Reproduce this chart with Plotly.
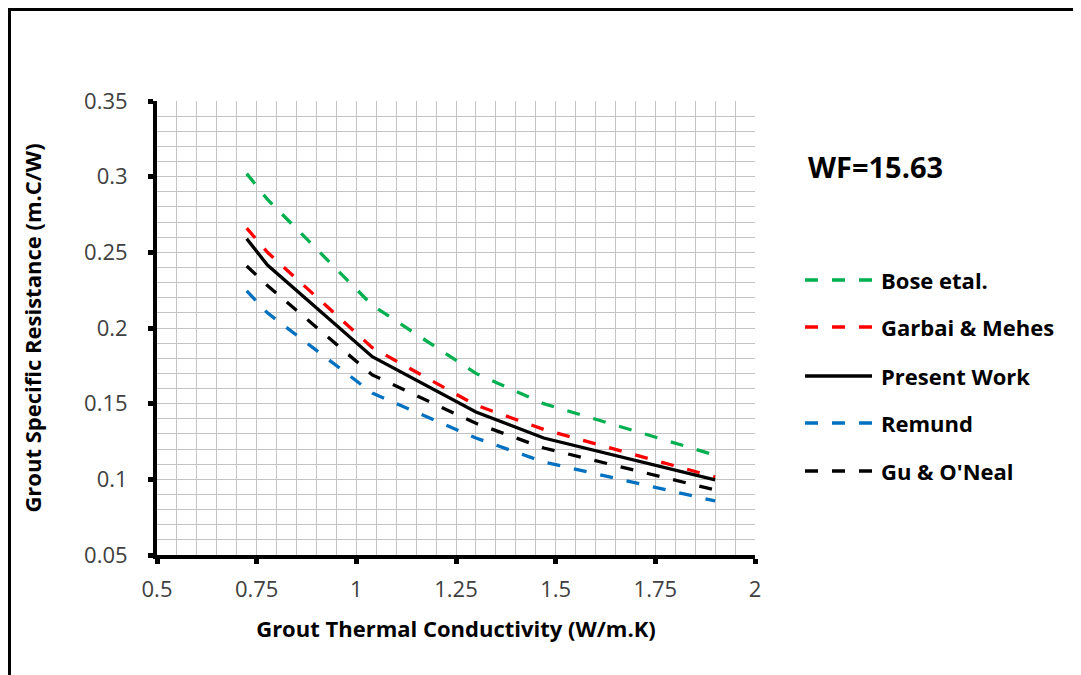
import plotly.graph_objects as go

# ---- data ----
conductivity = [0.725, 0.777, 1.04, 1.30, 1.47, 1.90]
bose = [0.302, 0.285, 0.215, 0.170, 0.150, 0.116]
garbai = [0.266, 0.250, 0.187, 0.149, 0.133, 0.1015]
present = [0.259, 0.2416, 0.181, 0.1445, 0.1273, 0.0996]
remund = [0.2245, 0.210, 0.157, 0.1273, 0.1115, 0.0857]
gu = [0.241, 0.228, 0.169, 0.137, 0.1207, 0.093]

series_names = ["Bose etal.", "Garbai & Mehes", "Present Work", "Remund", "Gu & O'Neal"]
series_values = [bose, garbai, present, remund, gu]
series_colors = ["#00B050", "#FF0000", "#000000", "#0070C0", "#000000"]
series_dash = ["13px,14px", "13px,14px", "solid", "13px,14px", "13px,14px"]

x_tickvals = [0.5, 0.75, 1, 1.25, 1.5, 1.75, 2]
x_ticktext = ["0.5", "0.75", "1", "1.25", "1.5", "1.75", "2"]
y_tickvals = [0.05, 0.1, 0.15, 0.2, 0.25, 0.3, 0.35]
y_ticktext = ["0.05", "0.1", "0.15", "0.2", "0.25", "0.3", "0.35"]

annotation_text = "WF=15.63"
x_title = "Grout Thermal Conductivity (W/m.K)"
y_title = "Grout Specific Resistance (m.C/W)"

FONT = "'Open Sans', sans-serif"

fig = go.Figure()
for name, vals, col, dash in zip(series_names, series_values, series_colors, series_dash):
    fig.add_trace(go.Scatter(
        x=conductivity, y=vals, mode="lines", name=name,
        line=dict(color=col, width=3.3, dash=dash), showlegend=False,
    ))

W, H = 1081, 675
OFF = 8  # default page margin of the html body
# plot area in page pixels (from the reference)
L, R, T, B = 157, 755, 101, 555
pw, ph = R - L, B - T


def px2x(px):
    return (px - L) / pw


def py2y(py):
    return (B - py) / ph


shapes = []
annotations = []

# custom legend (line samples + labels) on the right
legend_rows = [280, 327, 376, 423, 471]
for name, col, dash, row in zip(series_names, series_colors, series_dash, legend_rows):
    shapes.append(dict(type="line", xref="paper", yref="paper",
                       x0=px2x(805), x1=px2x(872), y0=py2y(row), y1=py2y(row),
                       line=dict(color=col, width=3.3, dash=dash)))
    annotations.append(dict(xref="paper", yref="paper", x=px2x(879), y=py2y(row),
                            text="<b>%s</b>" % name, showarrow=False,
                            xanchor="left", yanchor="middle",
                            font=dict(family=FONT, size=22, color="#000000")))

annotations.append(dict(xref="paper", yref="paper", x=px2x(806), y=py2y(166),
                        text="<b>%s</b>" % annotation_text, showarrow=False,
                        xanchor="left", yanchor="middle",
                        font=dict(family=FONT, size=29, color="#000000")))

# outer frame of the figure (drawn as close to the page corner as possible)
shapes.append(dict(type="rect", xref="paper", yref="paper",
                   x0=px2x(OFF + 1.5), x1=px2x(1120), y0=py2y(OFF + 1.5), y1=py2y(720),
                   line=dict(color="#000000", width=3), layer="below"))

fig.update_layout(
    width=W, height=H,
    margin=dict(l=L - OFF, r=W - (R - OFF), t=T - OFF, b=H - (B - OFF), pad=0),
    paper_bgcolor="white", plot_bgcolor="white",
    font=dict(family=FONT, color="#404040"),
    shapes=shapes, annotations=annotations,
    xaxis=dict(
        range=[0.5, 2], tickvals=x_tickvals, ticktext=x_ticktext,
        showgrid=True, gridcolor="#C4C4C4", gridwidth=1,
        minor=dict(dtick=0.05, tick0=0.5, showgrid=True, gridcolor="#C4C4C4", gridwidth=1),
        showline=True, linecolor="#000000", linewidth=4,
        ticks="outside", ticklen=5, tickwidth=5, tickcolor="#000000",
        ticklabelstandoff=7,
        tickfont=dict(family=FONT, size=22, color="#404040"),
        zeroline=False,
        title=dict(text="<b>%s</b>" % x_title, standoff=20,
                   font=dict(family=FONT, size=22, color="#000000")),
    ),
    yaxis=dict(
        range=[0.05, 0.35], tickvals=y_tickvals, ticktext=y_ticktext,
        showgrid=True, gridcolor="#C4C4C4", gridwidth=1,
        minor=dict(dtick=0.01, tick0=0.05, showgrid=True, gridcolor="#C4C4C4", gridwidth=1),
        showline=True, linecolor="#000000", linewidth=4,
        ticks="outside", ticklen=5, tickwidth=5, tickcolor="#000000",
        ticklabelstandoff=16,
        tickfont=dict(family=FONT, size=22, color="#404040"),
        zeroline=False,
        title=dict(text="<b>%s</b>" % y_title, standoff=37,
                   font=dict(family=FONT, size=22, color="#000000")),
    ),
)

fig.write_html("out.html")
